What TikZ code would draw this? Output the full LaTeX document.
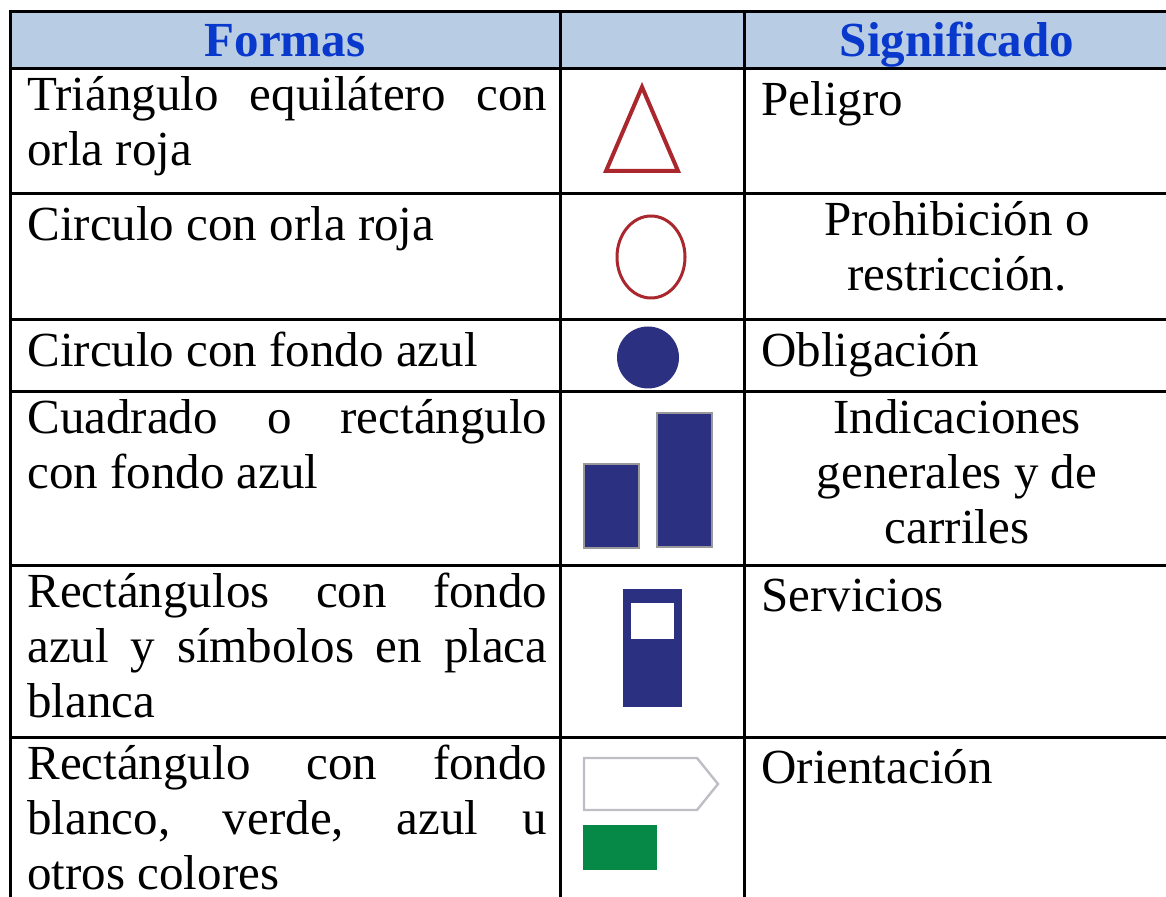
\documentclass[tikz,border=0pt]{standalone}
\usepackage{fontspec}
\setmainfont{Liberation Serif}
\definecolor{headfill}{RGB}{184,204,228}
\definecolor{headblue}{RGB}{8,56,204}
\definecolor{signred}{RGB}{170,40,45}
\definecolor{signnavy}{RGB}{44,48,128}
\definecolor{signgreen}{RGB}{6,136,70}
\definecolor{plategray}{RGB}{190,190,196}
\newcommand{\jline}[1]{\makebox[260pt][s]{#1}}
\begin{document}
\begin{tikzpicture}[x=0.5pt, y=-0.5pt,
	gridline/.style = {line width=1.5pt, black},
	cell/.style = {anchor=north west, inner sep=0pt, align=left, font=\fontsize{24.5}{27.5}\selectfont, execute at begin node=\strut},
	celc/.style = {cell, anchor=north, align=center},
	head/.style = {anchor=base, inner sep=0pt, font=\fontsize{24.5}{27.5}\selectfont\bfseries, text=headblue}]
	\useasboundingbox (0,0) rectangle (1166,897);
	\fill[headfill] (10,12) rectangle (1166,69);
	\draw[gridline] (1166,12) -- (10,12) -- (10,897);
	\draw[gridline] (560,12) -- (560,897);
	\draw[gridline] (744,12) -- (744,897);
	\foreach \y in {69,194,320,392,565,737}
		\draw[gridline] (10,\y) -- (1166,\y);

	\node[head] (formas) at (285,57) {Formas};
	\node[head] (signif) at (957,57) {Significado};

	\node[cell] (forma1) at (27,76.5) {\jline{Triángulo equilátero con}\\orla roja};
	\node[cell] (forma2) at (27,201.5) {Circulo con orla roja};
	\node[cell] (forma3) at (27,327.5) {Circulo con fondo azul};
	\node[cell] (forma4) at (27,399.5) {\jline{Cuadrado o rectángulo}\\con fondo azul};
	\node[cell] (forma5) at (27,572.5) {\jline{Rectángulos con fondo}\\\jline{azul y símbolos en placa}\\blanca};
	\node[cell] (forma6) at (27,744.5) {\jline{Rectángulo con fondo}\\\jline{blanco, verde, azul u}\\otros colores};

	\node[cell] (signif1) at (761,76.5) {Peligro};
	\node[celc] (signif2) at (957,201.5) {Prohibición o\\restricción.};
	\node[cell] (signif3) at (761,327.5) {Obligación};
	\node[celc] (signif4) at (957,399.5) {Indicaciones\\generales y de\\carriles};
	\node[cell] (signif5) at (761,572.5) {Servicios};
	\node[cell] (signif6) at (761,744.5) {Orientación};

	\draw[signred, line width=2pt, line join=miter] (642,87) -- (678,171) -- (606,171) -- cycle;
	\draw[signred, line width=1.5pt] (651,257) ellipse [x radius=34, y radius=41];
	\fill[signnavy] (648,357.5) circle [radius=31];
	\filldraw[fill=signnavy, draw=gray!80, line width=0.8pt] (584,464) rectangle (639,548);
	\filldraw[fill=signnavy, draw=gray!80, line width=0.8pt] (657,413) rectangle (712,547);
	\fill[signnavy] (623,589) rectangle (682,707);
	\fill[white] (631,603) rectangle (674,639);
	\draw[plategray, line width=1.2pt, fill=white] (584,758) -- (697,758) -- (718,784) -- (697,810) -- (584,810) -- cycle;
	\fill[signgreen] (583,825) rectangle (657,870);
\end{tikzpicture}
\end{document}
